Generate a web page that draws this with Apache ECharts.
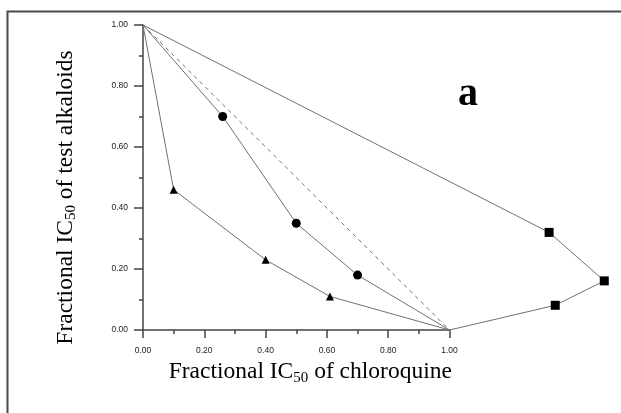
<!DOCTYPE html>
<html><head><meta charset="utf-8">
<script src="https://cdn.jsdelivr.net/npm/echarts@6/dist/echarts.min.js"></script>
<style>html,body{margin:0;padding:0;background:#fff}#c{width:621px;height:413px}</style>
</head><body><div id="c"></div>
<script>
// Data
const xTicks = [0, 0.2, 0.4, 0.6, 0.8, 1.0];
const yTicks = [0, 0.2, 0.4, 0.6, 0.8, 1.0];
const squareX = [0, 1.325, 1.505, 1.345, 1];
const squareY = [1, 0.320, 0.161, 0.081, 0];
const circleX = [0, 0.26, 0.50, 0.70, 1];
const circleY = [1, 0.70, 0.35, 0.18, 0];
const triangleX = [0, 0.10, 0.40, 0.61, 1];
const triangleY = [1, 0.46, 0.23, 0.11, 0];
const additiveX = [0, 1];
const additiveY = [1, 0];
const panelLabel = 'a';

const pairs = (xs, ys) => xs.map((x, i) => [x, ys[i]]);
const chart = echarts.init(document.getElementById('c'), null, {renderer: 'canvas'});
const lineStyle = {color: '#707070', width: 1};
const endless = (n, size) => (v, p) => (p.dataIndex === 0 || p.dataIndex === n - 1) ? 0 : size;
const mkSeries = (xs, ys, symbol, size) => ({
  type: 'line', data: pairs(xs, ys), symbol: symbol, symbolSize: endless(xs.length, size),
  xAxisIndex: 1, yAxisIndex: 1,
  showAllSymbol: true, clip: false, lineStyle: lineStyle,
  itemStyle: {color: '#000', borderWidth: 0}, emphasis: {disabled: true}, animation: false, z: 3
});
const sub = {fontSize: 15, fontFamily: 'Liberation Serif', color: '#000', verticalAlign: 'bottom', lineHeight: 27};
const nm = {fontSize: 23.5, fontFamily: 'Liberation Serif', color: '#000', lineHeight: 27};
const unit = 306.5; // px per unit along x in the visible axis
const xMaxData = 1.55;
const axisCol = '#444';
chart.setOption({
  animation: false,
  grid: [
    {left: 143, top: 25, width: unit, height: 305, containLabel: false},
    {left: 143, top: 25, width: unit * xMaxData, height: 305, containLabel: false}
  ],
  xAxis: [{
    gridIndex: 0, type: 'value', min: 0, max: 1, interval: 0.2,
    name: '{n|Fractional IC}{s|50}{n| of chloroquine}', nameLocation: 'middle', nameGap: 27,
    nameTextStyle: {padding: [0, 0, 0, 28], rich: {n: nm, s: sub}},
    axisLine: {show: true, lineStyle: {color: axisCol, width: 1.5}},
    axisTick: {show: true, length: 8, lineStyle: {color: axisCol, width: 1.5}},
    minorTick: {show: true, splitNumber: 2, length: 4, lineStyle: {color: axisCol, width: 1.5}},
    splitLine: {show: false},
    axisLabel: {margin: 16, fontSize: 8.5, fontFamily: 'Liberation Sans', color: '#222',
      formatter: v => v.toFixed(2)}
  }, {
    gridIndex: 1, type: 'value', min: 0, max: xMaxData, show: false
  }],
  yAxis: [{
    gridIndex: 0, type: 'value', min: 0, max: 1, interval: 0.2,
    name: '{n|Fractional IC}{s|50}{n| of test alkaloids}', nameLocation: 'middle', nameGap: 64, nameRotate: 90,
    nameTextStyle: {padding: [0, 40, 0, 0], rich: {n: nm, s: sub}},
    axisLine: {show: true, lineStyle: {color: axisCol, width: 1.5}},
    axisTick: {show: true, length: 9, lineStyle: {color: axisCol, width: 1.5}},
    minorTick: {show: true, splitNumber: 2, length: 4, lineStyle: {color: axisCol, width: 1.5}},
    splitLine: {show: false},
    axisLabel: {margin: 15, fontSize: 8.5, fontFamily: 'Liberation Sans', color: '#222',
      formatter: v => v.toFixed(2)}
  }, {
    gridIndex: 1, type: 'value', min: 0, max: 1, show: false
  }],
  series: [
    {type: 'line', data: pairs(additiveX, additiveY), symbol: 'none', clip: false,
     xAxisIndex: 1, yAxisIndex: 1,
     lineStyle: {color: '#707070', width: 1, type: [4, 4]}, animation: false, z: 2},
    mkSeries(squareX, squareY, 'rect', 9),
    mkSeries(circleX, circleY, 'circle', 9),
    mkSeries(triangleX, triangleY, 'triangle', 8)
  ],
  graphic: [
    {type: 'rect', left: 5, top: 9, shape: {x: 0, y: 0, width: 700, height: 500},
     style: {fill: 'none', stroke: '#4a4a4a', lineWidth: 2}, z: -1},
    {type: 'text', x: 468, y: 95, style: {text: panelLabel, font: 'bold 40px "Liberation Serif"',
     fill: '#000', align: 'center', verticalAlign: 'middle'}}
  ]
});
</script></body></html>
